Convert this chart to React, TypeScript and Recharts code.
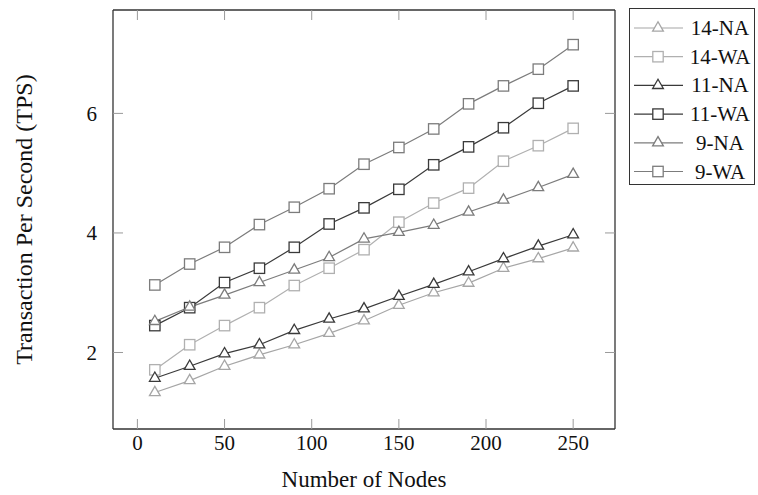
import { LineChart, Line, XAxis, YAxis, Label } from 'recharts'

const nodes = [10, 30, 50, 70, 90, 110, 130, 150, 170, 190, 210, 230, 250]
const na14 = [1.33, 1.53, 1.77, 1.96, 2.13, 2.32, 2.53, 2.79, 3.0, 3.16, 3.41, 3.57, 3.75]
const wa14 = [1.71, 2.13, 2.45, 2.75, 3.12, 3.41, 3.72, 4.18, 4.5, 4.75, 5.2, 5.46, 5.75]
const na11 = [1.57, 1.77, 1.98, 2.13, 2.37, 2.56, 2.73, 2.94, 3.14, 3.35, 3.57, 3.78, 3.97]
const wa11 = [2.45, 2.75, 3.17, 3.41, 3.76, 4.15, 4.42, 4.73, 5.14, 5.44, 5.76, 6.17, 6.46]
const na9 = [2.52, 2.76, 2.96, 3.17, 3.38, 3.59, 3.9, 4.01, 4.13, 4.35, 4.55, 4.76, 4.98]
const wa9 = [3.13, 3.48, 3.76, 4.14, 4.43, 4.74, 5.15, 5.43, 5.74, 6.16, 6.46, 6.74, 7.15]

const xTicks = [0, 50, 100, 150, 200, 250]
const yTicks = [2, 4, 6]

type Shape = 'triangle' | 'square'

const series: { key: string; name: string; color: string; shape: Shape }[] = [
  { key: 'na14', name: '14-NA', color: '#a6a6a6', shape: 'triangle' },
  { key: 'wa14', name: '14-WA', color: '#b0b0b0', shape: 'square' },
  { key: 'na11', name: '11-NA', color: '#3a3a3a', shape: 'triangle' },
  { key: 'wa11', name: '11-WA', color: '#3a3a3a', shape: 'square' },
  { key: 'na9', name: '9-NA', color: '#7c7c7c', shape: 'triangle' },
  { key: 'wa9', name: '9-WA', color: '#7c7c7c', shape: 'square' },
]

const data = nodes.map((n, i) => ({
  n,
  na14: na14[i],
  wa14: wa14[i],
  na11: na11[i],
  wa11: wa11[i],
  na9: na9[i],
  wa9: wa9[i],
}))

const font = '"Liberation Serif", "DejaVu Serif", serif'
const frame = '#333'
const tickGray = '#9a9a9a'

function Marker({ cx, cy, color, shape }: { cx: number; cy: number; color: string; shape: Shape }) {
  if (shape === 'square') {
    const h = 5.2
    return <rect x={cx - h} y={cy - h} width={h * 2} height={h * 2} fill="#fff" stroke={color} strokeWidth={1.3} />
  }
  const r = 6.2
  const pts = [
    [cx, cy - r],
    [cx - r * 0.866, cy + r / 2],
    [cx + r * 0.866, cy + r / 2],
  ]
    .map((p) => p.join(','))
    .join(' ')
  return <polygon points={pts} fill="#fff" stroke={color} strokeWidth={1.3} />
}

function LegendBox() {
  return (
    <div
      style={{
        position: 'absolute',
        left: 629,
        top: 8,
        width: 126,
        height: 177,
        border: `1.3px solid ${frame}`,
        background: '#fff',
        boxSizing: 'border-box',
      }}
    >
      <svg width={126} height={177}>
        {series.map((s, i) => {
          const y = 19 + i * 28.7
          return (
            <g key={s.key}>
              <line x1={4} x2={53} y1={y} y2={y} stroke={s.color} strokeWidth={1.2} />
              <Marker cx={28} cy={y} color={s.color} shape={s.shape} />
              <text x={90} y={y} textAnchor="middle" dominantBaseline="central" fontFamily={font} fontSize={21} fill="#111">
                {s.name}
              </text>
            </g>
          )
        })}
      </svg>
    </div>
  )
}

const noLabel = () => <g />

export default function App() {
  return (
    <div style={{ position: 'absolute', left: 0, top: 0, width: 758, height: 495, background: '#fff' }}>
      <LineChart width={758} height={495} data={data} margin={{ top: 9, right: 142, bottom: 0, left: 13 }}>
        <XAxis
          dataKey="n"
          type="number"
          domain={[-14, 274]}
          ticks={xTicks}
          allowDataOverflow
          height={66}
          tickSize={-10}
          tickMargin={16}
          tick={{ fill: '#111', fontSize: 21, fontFamily: font }}
          tickLine={{ stroke: tickGray }}
          axisLine={{ stroke: frame, strokeWidth: 1.3 }}
        >
          <Label value="Number of Nodes" position="insideBottom" offset={8} style={{ fill: '#111', fontSize: 23, fontFamily: font }} />
        </XAxis>
        <XAxis
          xAxisId="top"
          orientation="top"
          dataKey="n"
          type="number"
          domain={[-14, 274]}
          ticks={xTicks}
          allowDataOverflow
          height={1}
          tickSize={-10}
          tick={noLabel}
          tickLine={{ stroke: tickGray }}
          axisLine={{ stroke: frame, strokeWidth: 1.3 }}
        />
        <YAxis
          type="number"
          domain={[0.72, 7.73]}
          ticks={yTicks}
          allowDataOverflow
          width={100}
          tickSize={-10}
          tickMargin={26}
          tick={{ fill: '#111', fontSize: 21, fontFamily: font }}
          tickLine={{ stroke: tickGray }}
          axisLine={{ stroke: frame, strokeWidth: 1.3 }}
        >
          <Label
            value="Transaction Per Second (TPS)"
            angle={-90}
            position="insideLeft"
            offset={10}
            style={{ fill: '#111', fontSize: 24, fontFamily: font, textAnchor: 'middle' }}
          />
        </YAxis>
        <YAxis
          yAxisId="right"
          orientation="right"
          type="number"
          domain={[0.72, 7.73]}
          ticks={yTicks}
          allowDataOverflow
          width={1}
          tickSize={-10}
          tick={noLabel}
          tickLine={{ stroke: tickGray }}
          axisLine={{ stroke: frame, strokeWidth: 1.3 }}
        />
        {/* invisible copy so the mirrored top/right axes get drawn */}
        <Line
          xAxisId="top"
          yAxisId="right"
          dataKey="wa9"
          stroke="none"
          dot={false}
          activeDot={false}
          legendType="none"
          isAnimationActive={false}
        />
        {series.map((s) => (
          <Line
            key={s.key}
            dataKey={s.key}
            name={s.name}
            stroke={s.color}
            strokeWidth={1.2}
            isAnimationActive={false}
            dot={(p: any) => <Marker key={`${s.key}-${p.index}`} cx={p.cx} cy={p.cy} color={s.color} shape={s.shape} />}
            activeDot={false}
          />
        ))}
      </LineChart>
      <LegendBox />
    </div>
  )
}
